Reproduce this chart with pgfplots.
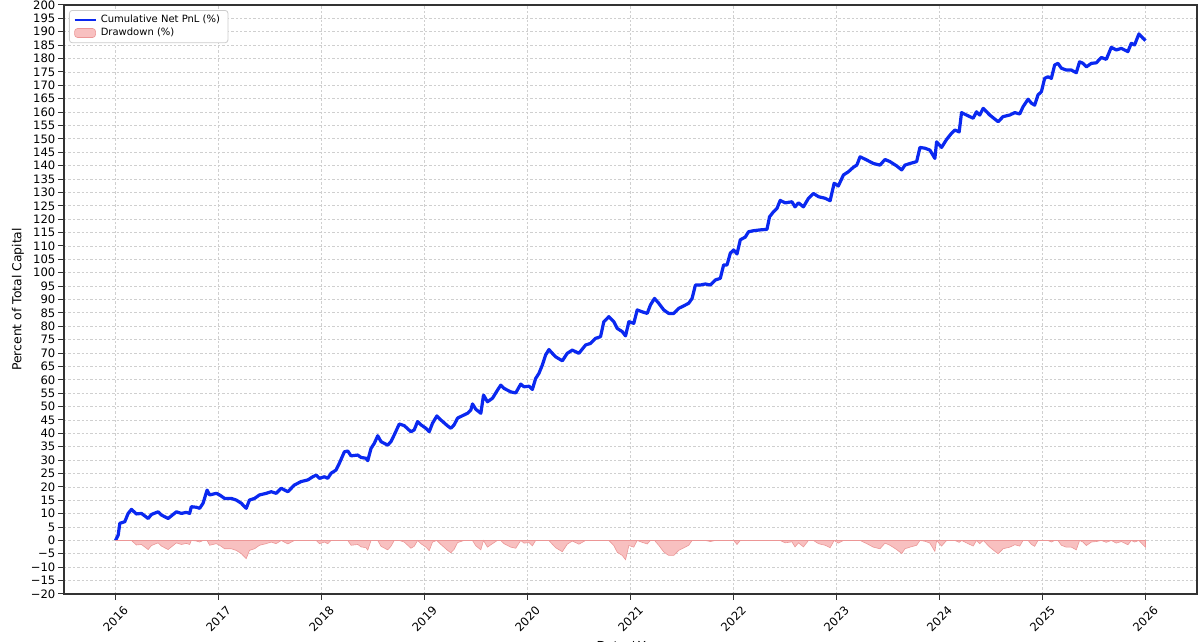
\documentclass[border=0pt]{standalone}
\usepackage{fontspec}
\setmainfont{DejaVu Sans}
\usepackage{pgfplots}
\usepackage{pgfplotstable}
\pgfplotsset{compat=1.18}

\definecolor{pnlblue}{RGB}{10,40,240}
\definecolor{ddfill}{RGB}{248,192,192}
\definecolor{ddedge}{RGB}{236,150,150}

% t = decimal year, v = cumulative net PnL (%), dd = drawdown (%)
\pgfplotstableread{
t v dd
2016.000 0.0 0.0
2016.026 2.0 0.0
2016.042 6.4 0.0
2016.090 7.0 0.0
2016.123 10.1 0.0
2016.155 11.6 0.0
2016.203 9.9 -1.7
2016.252 10.1 -1.5
2016.317 8.2 -3.4
2016.349 9.7 -1.9
2016.414 10.7 -0.9
2016.446 9.5 -2.1
2016.511 8.2 -3.4
2016.591 10.7 -0.9
2016.640 10.1 -1.5
2016.688 10.5 -1.1
2016.720 10.1 -1.5
2016.736 12.6 0.0
2016.785 12.4 -0.2
2016.817 12.0 -0.6
2016.850 13.9 0.0
2016.889 18.8 0.0
2016.914 17.0 -1.8
2016.979 17.6 -1.2
2017.011 17.0 -1.8
2017.059 15.7 -3.1
2017.124 15.7 -3.1
2017.172 15.1 -3.7
2017.221 13.9 -4.9
2017.269 12.0 -6.8
2017.301 15.1 -3.7
2017.350 15.7 -3.1
2017.398 17.0 -1.8
2017.463 17.6 -1.2
2017.512 18.2 -0.6
2017.560 17.6 -1.2
2017.609 19.5 0.0
2017.673 18.2 -1.3
2017.737 20.7 0.0
2017.802 22.0 0.0
2017.867 22.6 0.0
2017.916 23.8 0.0
2017.948 24.4 0.0
2017.980 23.2 -1.2
2018.028 23.8 -0.6
2018.061 23.2 -1.2
2018.093 25.1 0.0
2018.141 26.3 0.0
2018.173 28.8 0.0
2018.222 33.1 0.0
2018.255 33.4 0.0
2018.287 31.6 -1.8
2018.352 31.9 -1.5
2018.384 31.0 -2.4
2018.432 30.7 -2.7
2018.449 29.8 -3.6
2018.481 34.4 0.0
2018.513 36.3 0.0
2018.546 39.1 0.0
2018.578 36.9 -2.2
2018.643 35.6 -3.5
2018.674 36.9 -2.2
2018.706 39.4 0.0
2018.755 43.5 0.0
2018.803 42.9 -0.6
2018.868 40.6 -2.9
2018.900 41.3 -2.2
2018.933 44.4 0.0
2018.965 43.2 -1.2
2019.014 41.9 -2.5
2019.046 40.6 -3.8
2019.078 43.8 -0.6
2019.120 46.5 0.0
2019.159 45.0 -1.5
2019.224 42.8 -3.7
2019.256 41.9 -4.6
2019.288 43.2 -3.3
2019.321 45.7 -0.8
2019.385 46.9 0.0
2019.418 47.5 0.0
2019.450 48.7 0.0
2019.466 51.0 0.0
2019.498 49.0 -2.0
2019.547 47.5 -3.5
2019.573 54.3 0.0
2019.611 51.8 -2.5
2019.660 53.1 -1.2
2019.708 56.1 0.0
2019.740 58.0 0.0
2019.772 56.8 -1.2
2019.837 55.5 -2.5
2019.886 55.1 -2.9
2019.934 58.4 0.0
2019.966 57.4 -1.0
2020.015 57.6 -0.8
2020.047 56.4 -2.0
2020.079 60.5 0.0
2020.111 62.4 0.0
2020.144 65.5 0.0
2020.176 69.3 0.0
2020.208 71.3 0.0
2020.241 69.9 -1.4
2020.273 68.6 -2.7
2020.338 67.1 -4.2
2020.386 69.9 -1.4
2020.435 71.1 -0.2
2020.499 69.9 -1.4
2020.564 73.0 0.0
2020.612 73.6 0.0
2020.661 75.5 0.0
2020.709 76.1 0.0
2020.741 81.7 0.0
2020.790 83.6 0.0
2020.838 81.7 -1.9
2020.871 79.2 -4.4
2020.920 78.0 -5.6
2020.952 76.4 -7.2
2020.984 81.7 -1.9
2021.032 81.1 -2.5
2021.065 86.1 0.0
2021.113 85.4 -0.7
2021.162 84.8 -1.3
2021.194 88.0 0.0
2021.233 90.4 0.0
2021.274 88.6 -1.8
2021.323 86.1 -4.3
2021.371 84.8 -5.6
2021.420 84.8 -5.6
2021.468 86.7 -3.7
2021.516 87.6 -2.8
2021.565 88.6 -1.8
2021.598 90.4 0.0
2021.630 95.4 0.0
2021.678 95.4 0.0
2021.727 95.8 0.0
2021.775 95.4 -0.4
2021.824 97.3 0.0
2021.872 97.9 0.0
2021.904 102.9 0.0
2021.937 102.9 0.0
2021.969 107.3 0.0
2022.001 108.5 0.0
2022.034 107.0 -1.5
2022.066 112.3 0.0
2022.114 113.3 0.0
2022.146 115.3 0.0
2022.195 115.7 0.0
2022.260 116.0 0.0
2022.325 116.2 0.0
2022.350 120.9 0.0
2022.389 122.8 0.0
2022.422 124.0 0.0
2022.453 127.0 0.0
2022.502 126.1 -0.9
2022.567 126.5 -0.5
2022.597 124.6 -2.4
2022.631 126.1 -0.9
2022.679 124.6 -2.4
2022.728 127.8 0.0
2022.776 129.6 0.0
2022.825 128.4 -1.2
2022.890 127.8 -1.8
2022.938 126.9 -2.7
2022.977 133.4 0.0
2023.018 132.4 -1.0
2023.067 136.5 0.0
2023.115 137.7 0.0
2023.164 139.4 0.0
2023.197 140.2 0.0
2023.229 143.3 0.0
2023.294 142.1 -1.2
2023.358 140.8 -2.5
2023.422 140.2 -3.1
2023.471 142.3 -1.0
2023.519 141.5 -1.8
2023.584 139.9 -3.4
2023.633 138.4 -4.9
2023.665 140.2 -3.1
2023.713 140.8 -2.5
2023.778 141.5 -1.8
2023.810 146.8 0.0
2023.859 146.5 -0.3
2023.907 145.8 -1.0
2023.955 142.7 -4.1
2023.972 148.9 0.0
2024.020 146.8 -2.1
2024.069 149.8 0.0
2024.117 152.1 0.0
2024.149 153.3 0.0
2024.191 152.6 -0.7
2024.214 159.8 0.0
2024.262 158.9 -0.9
2024.327 157.7 -2.1
2024.359 160.1 0.0
2024.391 158.9 -1.2
2024.424 161.4 0.0
2024.488 158.9 -2.5
2024.569 156.4 -5.0
2024.617 158.3 -3.1
2024.682 158.9 -2.5
2024.731 159.8 -1.6
2024.779 159.3 -2.1
2024.811 162.0 0.0
2024.860 164.8 0.0
2024.893 163.3 -1.5
2024.924 162.6 -2.2
2024.956 166.4 0.0
2024.989 167.6 0.0
2025.021 172.6 0.0
2025.053 173.2 0.0
2025.086 172.6 -0.6
2025.118 177.6 0.0
2025.150 178.2 0.0
2025.183 176.4 -1.8
2025.231 175.7 -2.5
2025.280 175.7 -2.5
2025.328 174.7 -3.5
2025.360 178.8 0.0
2025.393 178.2 -0.6
2025.426 176.9 -1.9
2025.474 178.2 -0.6
2025.522 178.4 -0.4
2025.571 180.4 0.0
2025.619 179.7 -0.7
2025.668 184.2 0.0
2025.716 183.2 -1.0
2025.765 183.8 -0.4
2025.829 182.6 -1.6
2025.862 185.7 0.0
2025.894 185.1 -0.6
2025.936 189.2 0.0
2025.975 187.6 -1.6
2026.000 186.7 -2.5
}\pnl

\begin{document}
\begin{tikzpicture}
\begin{axis}[
    width=566.5pt, height=294.5pt, scale only axis,
    xmin=2015.5, xmax=2026.5,
    ymin=-20, ymax=200,
    xtick={2016,2017,...,2026},
    xticklabels={2016,2017,2018,2019,2020,2021,2022,2023,2024,2025,2026},
    ytick={-20,-15,...,200},
    yticklabels={−20,−15,−10,−5,0,5,10,15,20,25,30,35,40,45,50,55,60,65,70,75,80,85,90,95,100,105,110,115,120,125,130,135,140,145,150,155,160,165,170,175,180,185,190,195,200},
    xtick pos=lower, ytick pos=left,
    tick align=outside, major tick length=3pt,
    tick style={black!80, line width=0.5pt},
    axis line style={black!80, line width=0.6pt},
    grid=major,
    major grid style={gray!38, line width=0.4pt, dash pattern=on 1.2pt off 1pt},
    tick label style={font=\fontsize{5.8}{6.5}\selectfont},
    yticklabel style={xshift=2.2pt},
    xticklabel style={yshift=-9.5pt, rotate=45, anchor=center},
    label style={font=\fontsize{6.2}{7}\selectfont},
    ylabel={Percent of Total Capital},
    ylabel style={at={(axis description cs:-0.0406,0.5)}, anchor=center},
    xlabel={Date / Year},
    xlabel style={at={(axis description cs:0.5,0)}, anchor=north, yshift=-20pt},
    legend cell align=left,
    legend style={at={(0.0044,0.9915)}, anchor=north west, draw=black!20,
        rounded corners=1.5pt, fill=white, font=\fontsize{5}{6}\selectfont,
        inner xsep=2pt, inner ysep=0.6pt, row sep=-1.2pt,
        nodes={inner ysep=1.4pt}},
]
\addplot[pnlblue, line width=1.6pt, line join=round,
    legend image code/.code={\draw[pnlblue, line width=1.2pt] (0pt,0pt) -- (10.5pt,0pt);}]
    table[x=t, y=v] {\pnl};
\addlegendentry{Cumulative Net PnL (\%)}
\addplot[fill=ddfill, draw=ddedge, line width=0.3pt,
    legend image code/.code={\draw[fill=ddfill, draw=ddedge, line width=0.3pt] (0pt,-2pt) rectangle (10.5pt,2.5pt);}]
    table[x=t, y=dd] {\pnl} \closedcycle;
\addlegendentry{Drawdown (\%)}
\path (rel axis cs:0,0) coordinate (ll);
\end{axis}
\pgfresetboundingbox
\path[use as bounding box] ([shift={(-32pt,-24pt)}]ll) rectangle ([shift={(568pt,297pt)}]ll);
\end{tikzpicture}
\end{document}
